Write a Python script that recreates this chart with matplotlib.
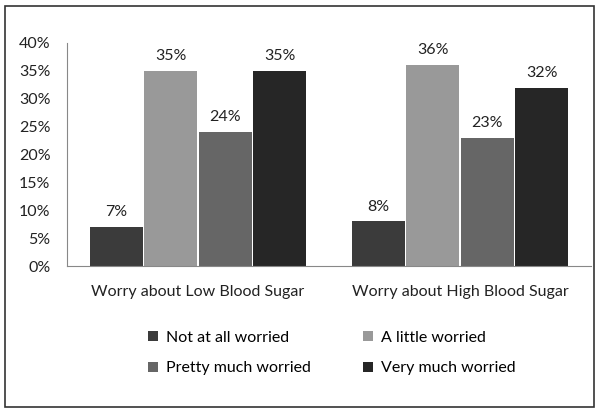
import matplotlib
matplotlib.use("Agg")
import matplotlib.pyplot as plt
import numpy as np
from matplotlib.patches import Rectangle

groups = ["Worry about Low Blood Sugar", "Worry about High Blood Sugar"]
series = ["Not at all worried", "A little worried", "Pretty much worried", "Very much worried"]
values = {
    "Not at all worried": [7, 8],
    "A little worried": [35, 36],
    "Pretty much worried": [24, 23],
    "Very much worried": [35, 32],
}
colors = ["#3b3b3b", "#999999", "#666666", "#262626"]
yticks = [0, 5, 10, 15, 20, 25, 30, 35, 40]

plt.rcParams["font.family"] = ["Lato", "DejaVu Sans"]
FS = 11.5

fig = plt.figure(figsize=(6.0, 4.12), dpi=100)
ax = fig.add_axes([67 / 600, 1 - 266 / 412, (591 - 67) / 600, (266 - 43) / 412])

x = np.arange(len(groups))
bw = 0.208
for i, (name, c) in enumerate(zip(series, colors)):
    pos = x + (i - 1.5) * bw
    bars = ax.bar(pos, values[name], width=bw * 0.97, color=c, label=name)
    for b, v in zip(bars, values[name]):
        ax.text(b.get_x() + b.get_width() / 2, v + 1.4, f"{v}%",
                ha="center", va="bottom", fontsize=FS, color="#222222")

ax.set_xlim(-0.5, 1.5)
ax.set_ylim(0, 40)
ax.set_yticks(yticks)
ax.set_yticklabels([f"{t}%" for t in yticks], fontsize=FS, color="#222222")
ax.set_xticks(x)
ax.set_xticklabels(groups, fontsize=FS, color="#222222")
ax.tick_params(axis="both", length=0, pad=14)
ax.tick_params(axis="y", pad=12)
for s in ("top", "right"):
    ax.spines[s].set_visible(False)
ax.spines["left"].set_color("#888888")
ax.spines["bottom"].set_color("#888888")

# legend fills column-wise: reorder so rows read (Not at all, A little), (Pretty much, Very much)
handles, labels = ax.get_legend_handles_labels()
order = [0, 2, 1, 3]
fig.legend([handles[k] for k in order], [labels[k] for k in order], ncol=2, loc="center",
           bbox_to_anchor=(332 / 600, 1 - 353 / 412),
           frameon=False, fontsize=FS, handlelength=0.6, handleheight=0.6,
           columnspacing=3.3, labelspacing=1.05, handletextpad=0.5)

fig.patches.append(Rectangle((5 / 600, 5 / 412), 589 / 600, 401 / 412, transform=fig.transFigure,
                             fill=False, edgecolor="#333333", lw=1.2))

fig.savefig("out.png", dpi=100)
